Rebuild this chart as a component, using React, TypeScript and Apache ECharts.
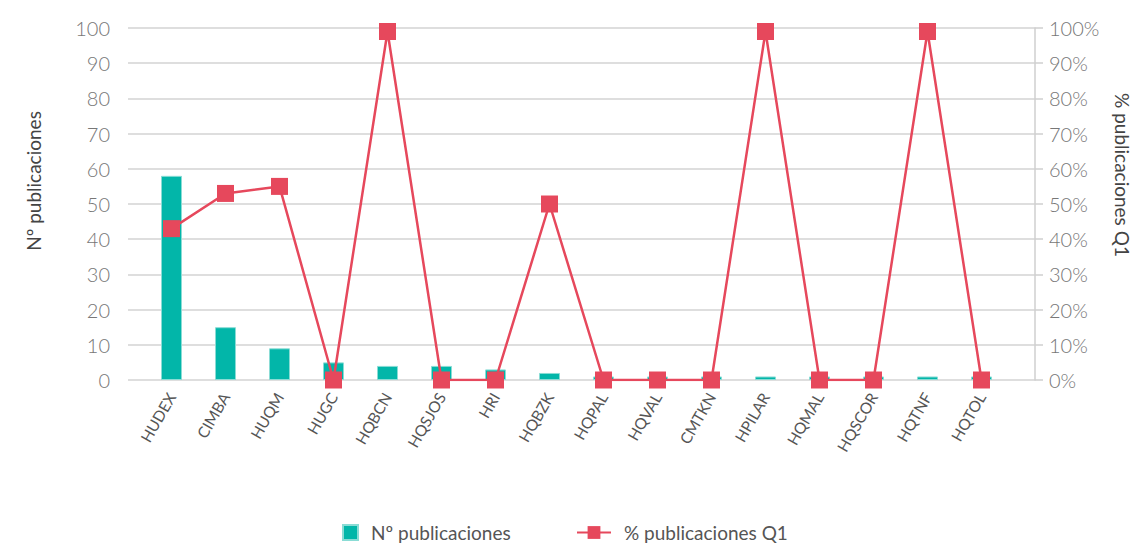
import React, { useEffect, useRef } from "react";
import * as echarts from "echarts";

const categories = ["HUDEX", "CIMBA", "HUQM", "HUGC", "HQBCN", "HQSJOS", "HRI", "HQBZK", "HQPAL", "HQVAL", "CMTKN", "HPILAR", "HQMAL", "HQSCOR", "HQTNF", "HQTOL"];
const publicaciones = [58, 15, 9, 5, 4, 4, 3, 2, 1, 1, 1, 1, 1, 1, 1, 1];
const pctQ1 = [43, 53, 55, 0, 99, 0, 0, 50, 0, 0, 0, 99, 0, 0, 99, 0];

const FONT = "Lato";
const TEAL = "#02b6a9";
const RED = "#e6485c";
const GRAY = "#555";

export default function App() {
  const ref = useRef<HTMLDivElement>(null);
  useEffect(() => {
    if (!ref.current) return;
    const chart = echarts.init(ref.current, null, { renderer: "svg" });
    chart.setOption({
      animation: false,
      textStyle: { fontFamily: FONT, fontWeight: 300 },
      grid: [
        { left: 128, right: 100, top: 28, bottom: 165 },
        { left: 144.5, right: 126.5, top: 28, bottom: 165 },
      ],
      legend: [
        {
          data: [{ name: "Nº publicaciones", icon: "rect" }],
          left: 337,
          top: 518,
          itemWidth: 15,
          itemHeight: 15,
          textStyle: { fontSize: 19, color: GRAY, fontFamily: FONT, fontWeight: 400, padding: [0, 0, 0, 8] },
        },
        {
          data: ["% publicaciones Q1"],
          left: 571,
          top: 518,
          itemWidth: 34,
          itemHeight: 16,
          textStyle: { fontSize: 19, color: GRAY, fontFamily: FONT, fontWeight: 400, padding: [0, 0, 0, 8] },
        },
      ],
      xAxis: [
        { type: "category", gridIndex: 0, show: false, data: categories },
        {
          type: "category",
          gridIndex: 1,
          data: categories,
          axisLine: { show: false },
          axisTick: { show: false },
          axisLabel: { rotate: 60, fontSize: 15.5, color: GRAY, margin: 14, interval: 0, fontFamily: FONT, fontWeight: 400 },
        },
      ],
      yAxis: [
        {
          type: "value",
          gridIndex: 0,
          min: 0,
          max: 100,
          interval: 10,
          axisLine: { show: false },
          axisTick: { show: false },
          axisLabel: { fontSize: 20, color: "#777", margin: 18, fontFamily: FONT, fontWeight: 300 },
          splitLine: { lineStyle: { color: "#d3d3d3", width: 1.5 } },
        },
        {
          type: "value",
          gridIndex: 0,
          position: "right",
          min: 0,
          max: 100,
          interval: 10,
          axisLine: { show: true, lineStyle: { color: "#cfcfcf", width: 1.5 } },
          axisTick: { show: true, length: 8, lineStyle: { color: "#cfcfcf", width: 1.5 } },
          axisLabel: { fontSize: 20, color: "#777", margin: 14, formatter: "{value}%", fontFamily: FONT, fontWeight: 300 },
          splitLine: { show: false },
        },
        { type: "value", gridIndex: 1, min: 0, max: 100, show: false },
        { type: "value", gridIndex: 1, min: 0, max: 100, show: false },
      ],
      series: [
        {
          name: "Nº publicaciones",
          type: "bar",
          xAxisIndex: 1,
          yAxisIndex: 2,
          data: publicaciones,
          barWidth: 21,
          itemStyle: { color: TEAL, borderColor: "#8adcd5", borderWidth: 1 },
        },
        {
          name: "% publicaciones Q1",
          type: "line",
          xAxisIndex: 1,
          yAxisIndex: 3,
          data: pctQ1,
          symbol: "rect",
          symbolSize: 17,
          lineStyle: { color: RED, width: 2.5 },
          itemStyle: { color: RED },
        },
      ],
      graphic: [
        {
          type: "text",
          x: 33,
          y: 181,
          rotation: Math.PI / 2,
          style: { text: "Nº publicaciones", fontSize: 19, fill: "#444", fontFamily: FONT, fontWeight: 400, align: "center", verticalAlign: "middle" },
        },
        {
          type: "text",
          x: 1122,
          y: 175,
          rotation: -Math.PI / 2,
          style: { text: "% publicaciones Q1", fontSize: 19, fill: "#444", fontFamily: FONT, fontWeight: 400, align: "center", verticalAlign: "middle" },
        },
      ],
    });
    return () => chart.dispose();
  }, []);
  return <div ref={ref} style={{ width: 1135, height: 545, position: "absolute", left: 0, top: 0 }} />;
}
